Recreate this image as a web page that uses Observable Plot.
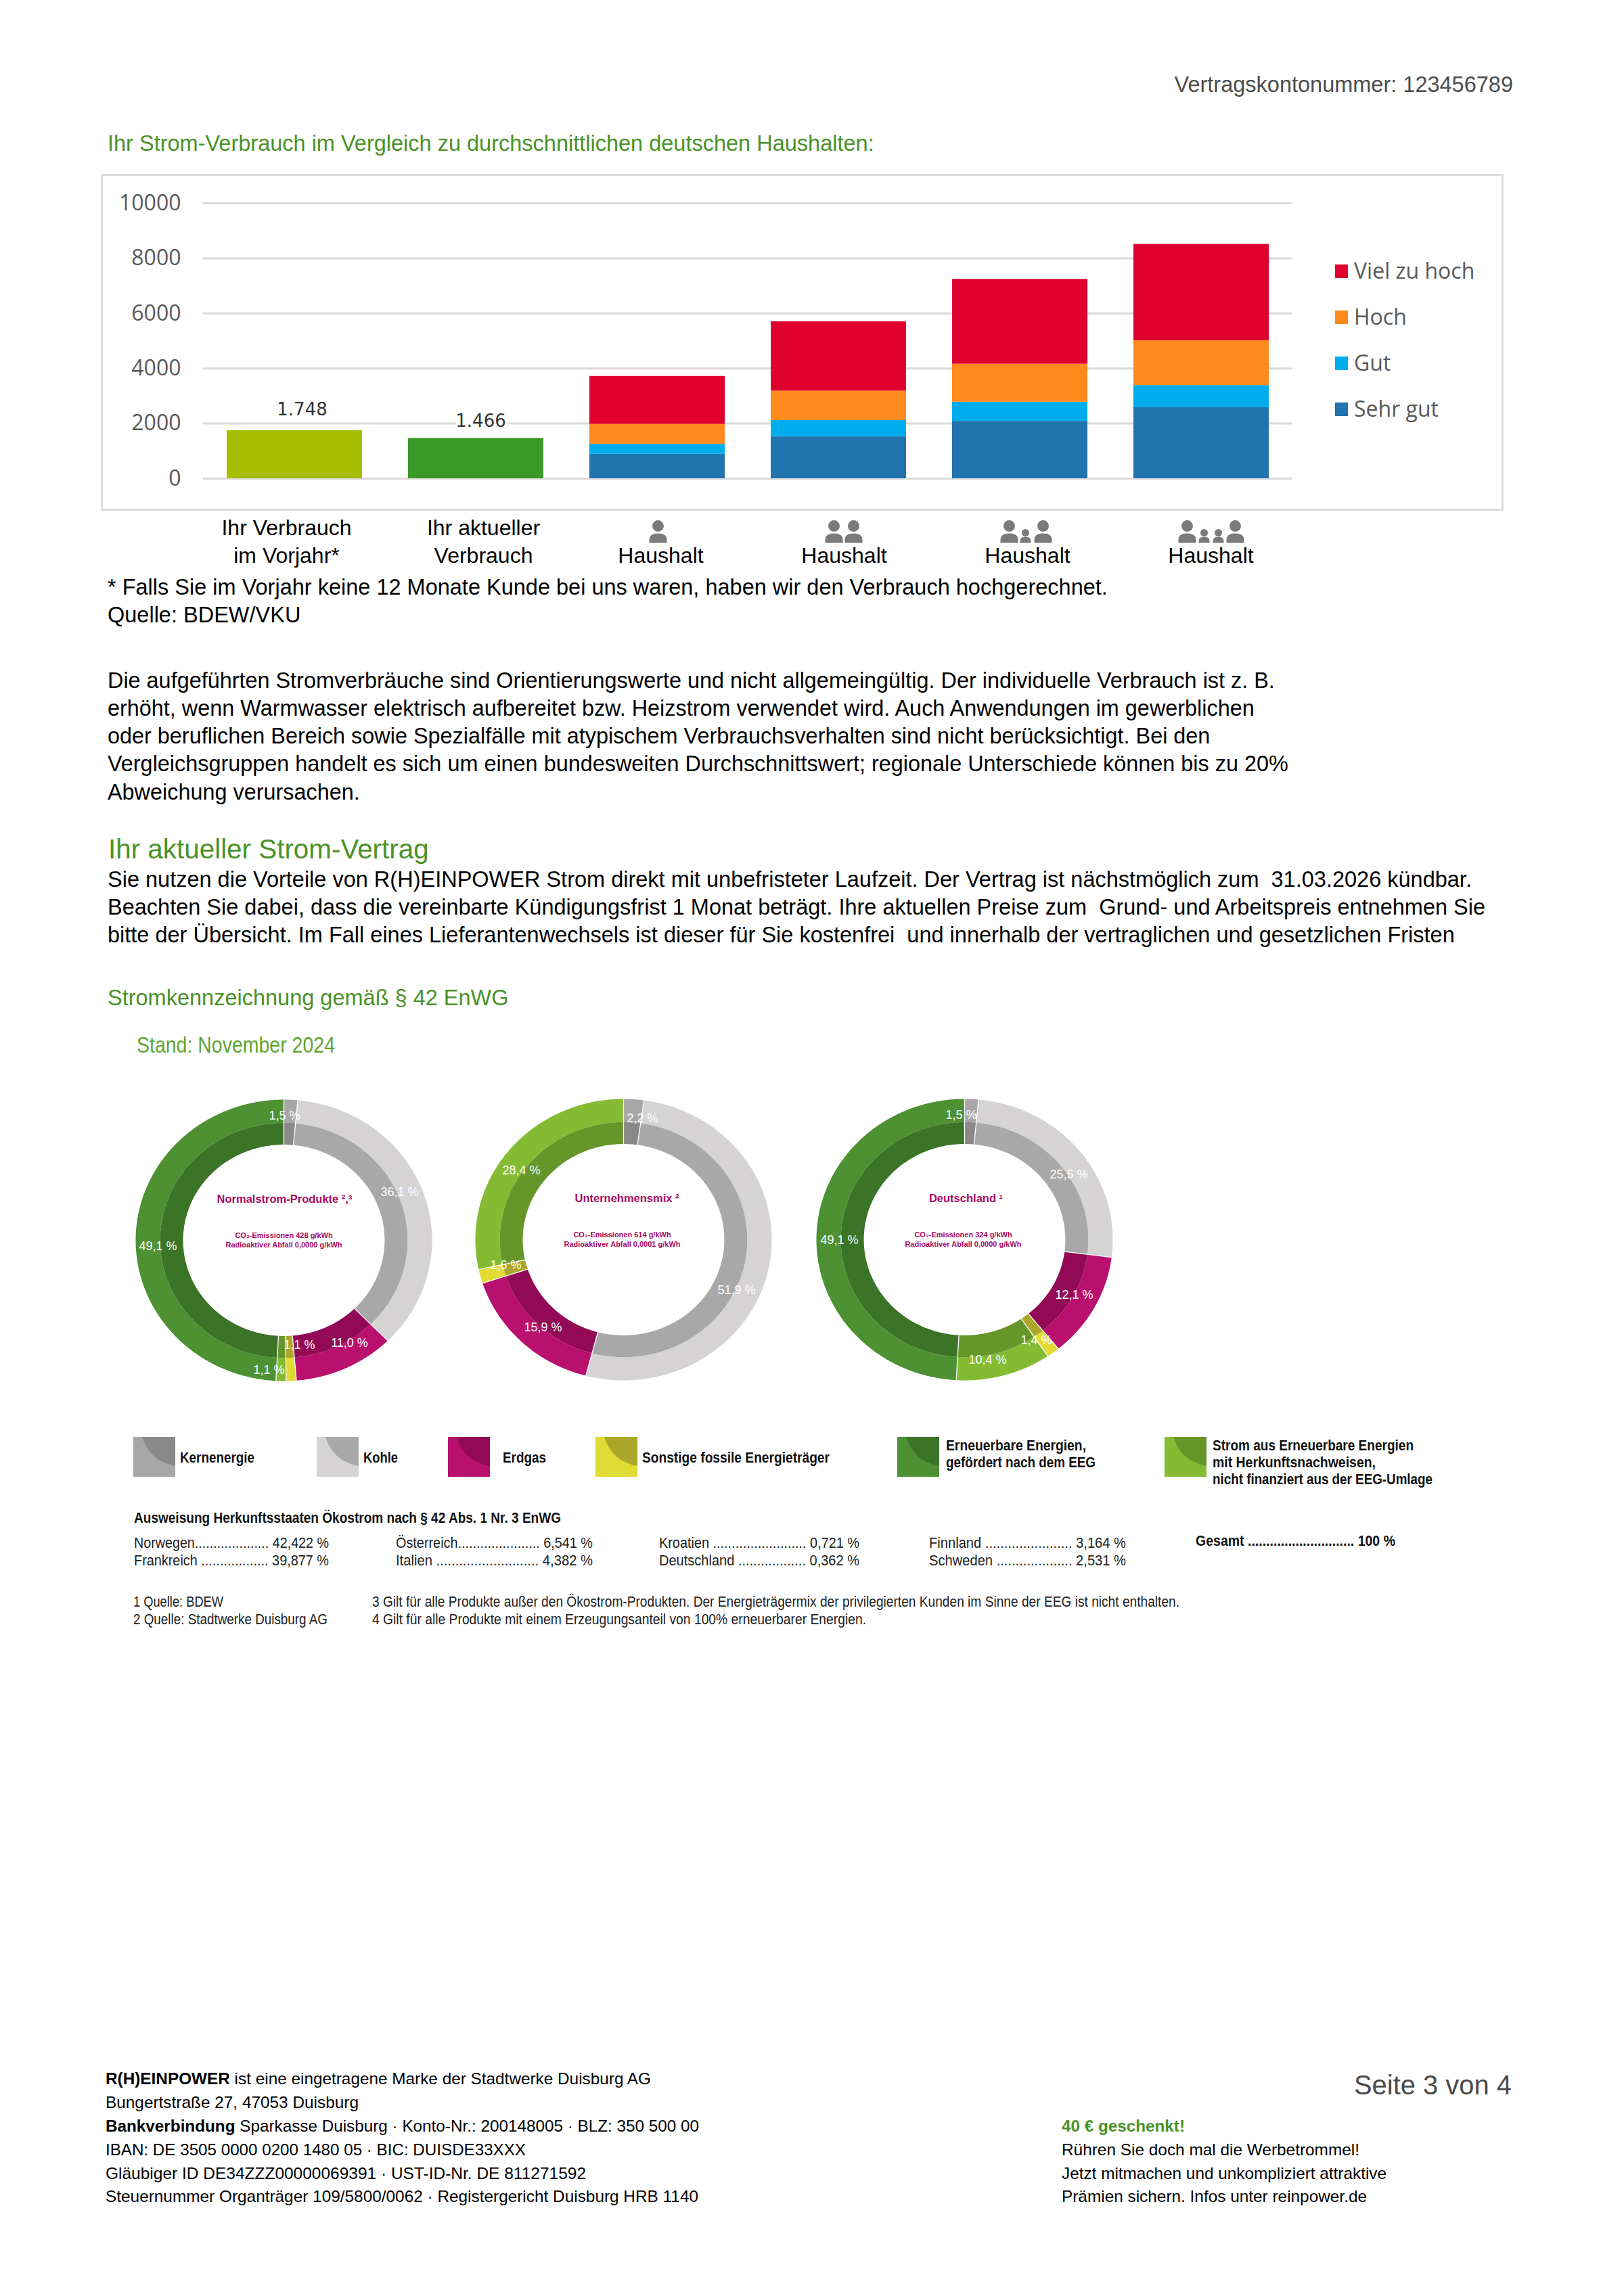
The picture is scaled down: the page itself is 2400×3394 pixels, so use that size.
<!DOCTYPE html>
<html lang="de"><head><meta charset="utf-8">
<script src="https://cdn.jsdelivr.net/npm/d3@7"></script>
<script src="https://cdn.jsdelivr.net/npm/@observablehq/plot@0.6"></script>
<style>
html,body{margin:0;padding:0;background:#fff}
#page{position:relative;width:2400px;height:3394px;overflow:hidden;font-family:"Liberation Sans",Arial,sans-serif}
.t{position:absolute;white-space:nowrap;line-height:0;transform-origin:0 50%}
svg{position:absolute;overflow:visible}
</style></head><body><div id="page"></div>
<script>
// ---- chart data ----
const tiers = ["Sehr gut", "Gut", "Hoch", "Viel zu hoch"];
const tierColors = ["#2274ae", "#00adec", "#ff8a1e", "#e0002d"];
const barKeys = ["vorjahr", "aktuell", "h1", "h2", "h3", "h4"];
const ownValues = [1748, 1466];
const ownLabels = ["1.748", "1.466"];
const sehrGut = [890, 1520, 2085, 2580];
const gut = [360, 595, 695, 805];
const hoch = [725, 1067, 1380, 1630];
const vielZuHoch = [1741, 2518, 3080, 3495];
const tickValues = [0, 2000, 4000, 6000, 8000, 10000];

// clockwise order in the rings
const energySources = ["Kernenergie", "Kohle", "Erdgas", "Sonstige fossile Energieträger", "Strom aus Erneuerbare Energien mit Herkunftsnachweisen, nicht finanziert aus der EEG-Umlage", "Erneuerbare Energien, gefördert nach dem EEG"];
const normalstrom = [1.5, 36.1, 11.0, 1.1, 1.1, 49.1];
const unternehmensmix = [2.2, 51.9, 15.9, 1.6, 28.4, 0];
const deutschland = [1.5, 25.5, 12.1, 1.4, 10.4, 49.1];
const outerColors = ["#a8a7a8", "#d5d3d4", "#b9106f", "#e0db35", "#84bb33", "#4d9133"];
const innerColors = ["#898989", "#a8a8a8", "#920a55", "#aca62a", "#66962a", "#3b7427"];

const countries = ["Norwegen.................... 42,422 %", "Frankreich .................. 39,877 %", "Österreich...................... 6,541 %", "Italien ........................... 4,382 %", "Kroatien ......................... 0,721 %", "Deutschland .................. 0,362 %", "Finnland ....................... 3,164 %", "Schweden .................... 2,531 %"];

// ---- layout ----
const page = document.getElementById("page");
function T(html, x, base, o = {}) {
  const size = o.size || 32.5;
  const el = document.createElement("div");
  el.className = "t";
  el.innerHTML = html;
  el.style.fontSize = size + "px";
  el.style.color = o.color || "#000";
  if (o.weight) el.style.fontWeight = o.weight;
  page.appendChild(el);
  const natural = el.getBoundingClientRect().width;
  let k = 1;
  if (o.w) { k = o.w / natural; el.style.transform = `scaleX(${k})`; }
  const left = o.right ? x - natural * k : x;
  el.style.left = left + "px";
  el.style.top = (base - 0.3465 * size) + "px";
}

// ---- page text ----
const GREEN = "#4a9228";
T("Vertragskontonummer: 123456789", 2236, 136, {right: true, color: "#4d4d4d"});
T("Ihr Strom-Verbrauch im Vergleich zu durchschnittlichen deutschen Haushalten:", 159, 223, {color: GREEN});
T("* Falls Sie im Vorjahr keine 12 Monate Kunde bei uns waren, haben wir den Verbrauch hochgerechnet.", 159, 879);
T("Quelle: BDEW/VKU", 159, 920);
["Die aufgeführten Stromverbräuche sind Orientierungswerte und nicht allgemeingültig. Der individuelle Verbrauch ist z. B.",
 "erhöht, wenn Warmwasser elektrisch aufbereitet bzw. Heizstrom verwendet wird. Auch Anwendungen im gewerblichen",
 "oder beruflichen Bereich sowie Spezialfälle mit atypischem Verbrauchsverhalten sind nicht berücksichtigt. Bei den",
 "Vergleichsgruppen handelt es sich um einen bundesweiten Durchschnittswert; regionale Unterschiede können bis zu 20%",
 "Abweichung verursachen."].forEach((s, i) => T(s, 159, 1017 + i * 41.2, {size: 32.4}));
T("Ihr aktueller Strom-Vertrag", 160, 1269, {size: 40.4, color: GREEN});
["Sie nutzen die Vorteile von R(H)EINPOWER Strom direkt mit unbefristeter Laufzeit. Der Vertrag ist nächstmöglich zum&nbsp; 31.03.2026 kündbar.",
 "Beachten Sie dabei, dass die vereinbarte Kündigungsfrist 1 Monat beträgt. Ihre aktuellen Preise zum&nbsp; Grund- und Arbeitspreis entnehmen Sie",
 "bitte der Übersicht. Im Fall eines Lieferantenwechsels ist dieser für Sie kostenfrei&nbsp; und innerhalb der vertraglichen und gesetzlichen Fristen"].forEach((s, i) => T(s, 159, 1311 + i * 41.2));
T("Stromkennzeichnung gemäß § 42 EnWG", 159, 1486, {color: GREEN});
T("Stand: November 2024", 202, 1556, {size: 34, w: 293, color: "#5ea52f"});

// ---- bar chart ----
const box = document.createElement("div");
box.style.cssText = "position:absolute;left:149px;top:257px;width:2067px;height:492px;border:3px solid #dcdcdc;box-sizing:content-box";
page.appendChild(box);

const stacked = [];
[sehrGut, gut, hoch, vielZuHoch].forEach((vals, t) => vals.forEach((v, i) =>
  stacked.push({key: barKeys[i + 2], tier: tiers[t], value: v})));
const own = ownValues.map((v, i) => ({key: barKeys[i], value: v, label: ownLabels[i]}));

function personPath(ctx, cx, r, bw, h, bodyH) {
  ctx.moveTo(cx + r, -h); ctx.arc(cx, -h, r, 0, 2 * Math.PI);
  ctx.moveTo(cx - bw, 0); ctx.lineTo(cx - bw, -bodyH * 0.3);
  ctx.quadraticCurveTo(cx - bw, -bodyH, cx, -bodyH);
  ctx.quadraticCurveTo(cx + bw, -bodyH, cx + bw, -bodyH * 0.3);
  ctx.lineTo(cx + bw, 0); ctx.closePath();
}
const adult = (ctx, cx) => personPath(ctx, cx, 8.5, 13, 25, 14);
const kid = (ctx, cx) => personPath(ctx, cx, 5.5, 8, 15, 9);
const icons = {
  h1: {dx: 1, draw(c) { adult(c, 0); }},
  h2: {dx: 7.5, draw(c) { adult(c, -14.5); adult(c, 14.5); }},
  h3: {dx: 9, draw(c) { adult(c, -25); kid(c, -1); adult(c, 25); }},
  h4: {dx: 14, draw(c) { adult(c, -35); kid(c, -10); kid(c, 11); adult(c, 36); }}
};
const xLabels = [["Ihr Verbrauch\nim Vorjahr*", -12], ["Ihr aktueller\nVerbrauch", 11], ["Haushalt", 5], ["Haushalt", 8], ["Haushalt", 11], ["Haushalt", 14]];

const bars = Plot.plot({
  width: 2068, height: 590, marginTop: 40, marginBottom: 143, marginLeft: 150, marginRight: 308,
  style: {background: "transparent", overflow: "visible"},
  x: {domain: barKeys, paddingInner: 0.253, paddingOuter: 0.1265, axis: null},
  y: {domain: [0, 10000], axis: null},
  color: {domain: tiers, range: tierColors},
  marks: [
    Plot.ruleY(tickValues, {stroke: "#d9d9d9", strokeWidth: 3}),
    Plot.axisY({ticks: tickValues, tickSize: 0, tickPadding: 33, tickFormat: d => String(d), label: null,
      fontSize: 32, fontFamily: "Open Sans", fill: "#595959"}),
    Plot.barY(stacked, {x: "key", y: "value", fill: "tier", order: tiers}),
    Plot.barY([own[0]], {x: "key", y: "value", fill: "#a5bf00"}),
    Plot.barY([own[1]], {x: "key", y: "value", fill: "#3a9a27"}),
    Plot.text([own[0]], {x: "key", y: "value", text: "label", dx: 11, dy: -31, fontSize: 26, fontFamily: "DejaVu Sans", fontWeight: 500, fill: "#333", stroke: "white", strokeWidth: 6}),
    Plot.text([own[1]], {x: "key", y: "value", text: "label", dx: 7, dy: -25, fontSize: 26, fontFamily: "DejaVu Sans", fontWeight: 500, fill: "#333", stroke: "white", strokeWidth: 8}),
    ...xLabels.map(([label, dx], i) => Plot.text([barKeys[i]], {
      x: d => d, text: () => label, frameAnchor: "bottom", lineAnchor: "bottom", lineHeight: 1.28,
      dx, dy: 124, fontSize: 32, fontFamily: "Liberation Sans", fill: "#000"})),
    ...Object.entries(icons).map(([k, ic]) => Plot.dot([k], {
      x: d => d, frameAnchor: "bottom", dx: ic.dx, dy: 95, symbol: {draw: ic.draw}, fill: "#7a7a7a", stroke: "none"}))
  ]
});
bars.style.left = "150px"; bars.style.top = "260px";
page.appendChild(bars);

// chart legend
const tierOrder = ["Viel zu hoch", "Hoch", "Gut", "Sehr gut"];
tierOrder.forEach((name, i) => {
  const sw = document.createElement("div");
  sw.style.cssText = `position:absolute;left:1973px;top:${391 + i * 67.9}px;width:19px;height:20px;background:${tierColors[tiers.indexOf(name)]}`;
  page.appendChild(sw);
  const el = document.createElement("div");
  el.className = "t";
  el.textContent = name;
  el.style.cssText += `left:2001px;top:${400 + i * 67.9}px;font:32px "Open Sans";line-height:0;color:#595959`;
  page.appendChild(el);
});

// ---- donuts ----
const RX = 219, RY = 208, MID = 0.835, INNER = 0.68;
function arcPoints(values) {
  const total = d3.sum(values), pts = [], seams = [];
  let acc = 0;
  values.forEach((v, i) => {
    if (!v) return;
    const a0 = acc / total * 2 * Math.PI, a1 = (acc + v) / total * 2 * Math.PI;
    [[1, MID, "o"], [MID, INNER, "i"]].forEach(([r1, r2, ring]) => {
      const key = energySources[i] + "|" + ring;
      const n = Math.max(2, Math.ceil((a1 - a0) / 0.01));
      const angles = d3.range(n + 1).map(j => a0 + (a1 - a0) * j / n);
      for (const a of angles) pts.push({key, x: r1 * Math.sin(a), y: r1 * Math.cos(a)});
      for (const a of angles.reverse()) pts.push({key, x: r2 * Math.sin(a), y: r2 * Math.cos(a)});
    });
    seams.push({x1: Math.sin(a0), y1: Math.cos(a0), x2: INNER * Math.sin(a0), y2: INNER * Math.cos(a0)});
    acc += v;
  });
  return {pts, seams};
}
const colorDomain = energySources.flatMap(s => [s + "|o", s + "|i"]);
const colorRange = outerColors.flatMap((c, i) => [c, innerColors[i]]);
const pct = v => v.toFixed(1).replace(".", ",") + " %";

function donut(values, cx, cy, title, co2, radio, spots) {
  const {pts, seams} = arcPoints(values);
  const labels = values.map((v, i) => ({v, spot: spots[i]})).filter(d => d.spot);
  const CLR = "#a90a62";
  const p = Plot.plot({
    width: 2 * RX, height: 2 * RY, margin: 0,
    style: {background: "transparent", overflow: "visible"},
    x: {domain: [-1, 1], axis: null},
    y: {domain: [-1, 1], axis: null},
    color: {domain: colorDomain, range: colorRange},
    marks: [
      Plot.line(pts, {x: "x", y: "y", z: "key", fill: "key", stroke: "none"}),
      Plot.link(seams, {x1: "x1", y1: "y1", x2: "x2", y2: "y2", stroke: "#fff", strokeWidth: 1.3}),
      Plot.text(labels, {x: d => d.spot[0] / RX, y: d => -d.spot[1] / RY, text: d => pct(d.v), fill: "#fff",
        fontSize: 18, fontFamily: "Liberation Sans", fontWeight: 500}),
      Plot.text([title[0]], {x: 0, y: 61 / RY, dx: title[1], fill: CLR, fontSize: 16.5, fontWeight: 700, fontFamily: "Liberation Sans", text: d => d}),
      Plot.text([co2], {x: 0, y: 7 / RY, dx: title[2], fill: CLR, fontSize: 11, fontWeight: 700, fontFamily: "Liberation Sans", text: d => d}),
      Plot.text([radio], {x: 0, y: -7 / RY, dx: title[2], fill: CLR, fontSize: 11, fontWeight: 700, fontFamily: "Liberation Sans", text: d => d})
    ]
  });
  p.style.left = (cx - RX) + "px"; p.style.top = (cy - RY) + "px";
  page.appendChild(p);
}
donut(normalstrom, 419, 1833, ["Normalstrom-Produkte ²,³", 1, 0], "CO₂-Emissionen 428 g/kWh", "Radioaktiver Abfall 0,0000 g/kWh",
  [[1, -184], [171, -71], [97, 152], [23, 155], [-22, 192], [-186, 9]]);
donut(unternehmensmix, 921, 1832, ["Unternehmensmix ²", 5, -2], "CO₂-Emissionen 614 g/kWh", "Radioaktiver Abfall 0,0001 g/kWh",
  [[28, -179], [167, 75], [-119, 130], [-174, 38], [-151, -102], null]);
donut(deutschland, 1425, 1832, ["Deutschland ¹", 2, -2], "CO₂-Emissionen 324 g/kWh", "Radioaktiver Abfall 0,0000 g/kWh",
  [[-5, -184], [154, -96], [162, 82], [106, 149], [34, 178], [-185, 1]]);

// ---- energy legend ----
function swatch(x, i) {
  const ns = "http://www.w3.org/2000/svg";
  const s = document.createElementNS(ns, "svg");
  s.setAttribute("width", 62); s.setAttribute("height", 59);
  s.style.cssText = `left:${x}px;top:2124px`;
  s.innerHTML = `<rect width="62" height="59" fill="${outerColors[i]}"/><path d="M13,0L62,0L62,43Q24,36 13,0Z" fill="${innerColors[i]}"/>`;
  page.appendChild(s);
}
const legendOrder = [0, 1, 2, 3, 5, 4];
[197, 468, 662, 880, 1326, 1721].forEach((x, i) => swatch(x, legendOrder[i]));
const LB = {size: 22, weight: 700, color: "#111"};
T("Kernenergie", 266, 2163, {...LB, w: 110});
T("Kohle", 537, 2163, {...LB, w: 51});
T("Erdgas", 743, 2163, {...LB, w: 64});
T("Sonstige fossile Energieträger", 949, 2163, {...LB, w: 277});
T("Erneuerbare Energien,", 1398, 2145, {...LB, w: 207});
T("gefördert nach dem EEG", 1398, 2170, {...LB, w: 221});
T("Strom aus Erneuerbare Energien", 1792, 2145, {...LB, w: 297});
T("mit Herkunftsnachweisen,", 1792, 2170, {...LB, w: 241});
T("nicht finanziert aus der EEG-Umlage", 1792, 2195, {...LB, w: 325});

T("Ausweisung Herkunftsstaaten Ökostrom nach § 42 Abs. 1 Nr. 3 EnWG", 198, 2252, {...LB, w: 631});
const colX = [198, 585, 974, 1373], colW = [288, 291, 296, 291];
countries.forEach((s, i) => T(s, colX[i >> 1], i % 2 ? 2315 : 2289, {size: 22, w: colW[i >> 1], color: "#222"}));
T("Gesamt ............................. 100 %", 1767, 2286, {...LB, w: 295});
T("1 Quelle: BDEW", 197, 2376, {size: 22, w: 133, color: "#222"});
T("2 Quelle: Stadtwerke Duisburg AG", 197, 2402, {size: 22, w: 287, color: "#222"});
T("3 Gilt für alle Produkte außer den Ökostrom-Produkten. Der Energieträgermix der privilegierten Kunden im Sinne der EEG ist nicht enthalten.", 550, 2376, {size: 22, w: 1193, color: "#222"});
T("4 Gilt für alle Produkte mit einem Erzeugungsanteil von 100% erneuerbarer Energien.", 550, 2402, {size: 22, w: 730, color: "#222"});

// ---- footer ----
const F = {size: 24};
T("<b>R(H)EINPOWER</b> ist eine eingetragene Marke der Stadtwerke Duisburg AG", 156, 3081, {...F, w: 806});
T("Bungertstraße 27, 47053 Duisburg", 156, 3116, {...F, w: 374});
T("<b>Bankverbindung</b> Sparkasse Duisburg · Konto-Nr.: 200148005 · BLZ: 350 500 00", 156, 3151, {...F, w: 877});
T("IBAN: DE 3505 0000 0200 1480 05 · BIC: DUISDE33XXX", 156, 3186, {...F, w: 621});
T("Gläubiger ID DE34ZZZ00000069391 · UST-ID-Nr. DE 811271592", 156, 3221, {...F, w: 710});
T("Steuernummer Organträger 109/5800/0062 · Registergericht Duisburg HRB 1140", 156, 3255, {...F, w: 876});
T("<b>40 € geschenkt!</b>", 1569, 3151, {...F, w: 182, color: GREEN});
T("Rühren Sie doch mal die Werbetrommel!", 1569, 3186, {...F, w: 440});
T("Jetzt mitmachen und unkompliziert attraktive", 1569, 3221, {...F, w: 480});
T("Prämien sichern. Infos unter reinpower.de", 1569, 3255, {...F, w: 451});
T("Seite 3 von 4", 2234, 3096, {size: 40, right: true, w: 233, color: "#4a4a4a"});
</script></body></html>
